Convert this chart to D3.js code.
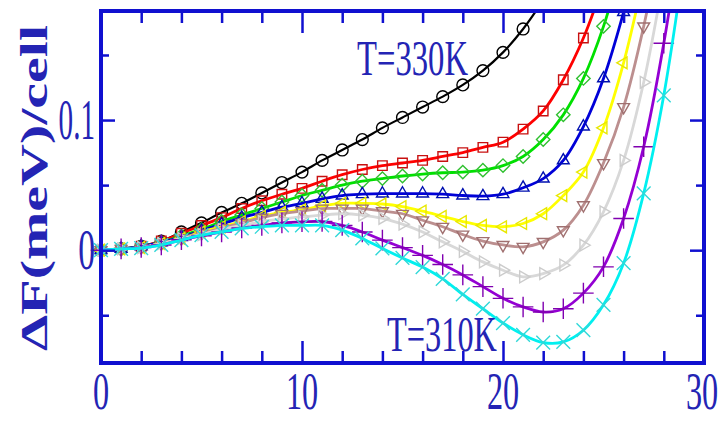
<!DOCTYPE html>
<html>
<head>
<meta charset="utf-8">
<script src="https://cdn.jsdelivr.net/npm/d3@7"></script>
<style>
  body { margin: 0; background: #fff; }
  svg { display: block; }
</style>
</head>
<body>
<div id="chart"></div>
<script>
// free energy vs order parameter, one curve per temperature (330K top .. 310K bottom)
const black  = [0, 0.001, 0.003, 0.007, 0.014, 0.021, 0.029, 0.036, 0.044, 0.052, 0.060, 0.069, 0.077, 0.085, 0.094, 0.102, 0.110, 0.118, 0.127, 0.138, 0.152, 0.170, 0.192];
const red    = [0, 0.001, 0.003, 0.007, 0.013, 0.019, 0.025, 0.032, 0.038, 0.043, 0.0475, 0.053, 0.058, 0.062, 0.065, 0.067, 0.069, 0.072, 0.075, 0.079, 0.083, 0.093, 0.107, 0.131, 0.163, 0.205];
const green  = [0, 0.001, 0.003, 0.006, 0.011, 0.016, 0.022, 0.027, 0.032, 0.037, 0.042, 0.046, 0.050, 0.053, 0.055, 0.057, 0.0585, 0.0595, 0.060, 0.0615, 0.065, 0.072, 0.085, 0.104, 0.132, 0.172, 0.225];
const blue   = [0, 0.001, 0.003, 0.006, 0.010, 0.015, 0.020, 0.025, 0.029, 0.033, 0.036, 0.0395, 0.042, 0.043, 0.0435, 0.0435, 0.0435, 0.043, 0.042, 0.0415, 0.043, 0.048, 0.055, 0.069, 0.095, 0.132, 0.183, 0.245];
const yellow = [0, 0.001, 0.002, 0.005, 0.009, 0.014, 0.018, 0.022, 0.026, 0.029, 0.031, 0.034, 0.036, 0.036, 0.0355, 0.0335, 0.030, 0.026, 0.022, 0.019, 0.018, 0.0205, 0.028, 0.042, 0.060, 0.094, 0.144, 0.210];
const brown  = [0, 0.001, 0.002, 0.005, 0.009, 0.013, 0.017, 0.021, 0.025, 0.028, 0.030, 0.032, 0.032, 0.032, 0.030, 0.028, 0.023, 0.018, 0.012, 0.007, 0.004, 0.0026, 0.0064, 0.0154, 0.0346, 0.067, 0.110, 0.172, 0.250];
const grey   = [0, 0.001, 0.002, 0.005, 0.009, 0.012, 0.016, 0.019, 0.022, 0.024, 0.0256, 0.027, 0.028, 0.027, 0.0245, 0.020, 0.014, 0.0064, -0.001, -0.009, -0.0154, -0.0205, -0.018, -0.0115, 0.0038, 0.0295, 0.069, 0.129, 0.210];
const violet = [0, 0.001, 0.002, 0.004, 0.008, 0.011, 0.014, 0.017, 0.019, 0.021, 0.0218, 0.022, 0.019, 0.014, 0.0077, 0.002, -0.004, -0.011, -0.019, -0.028, -0.037, -0.0436, -0.0475, -0.045, -0.033, -0.0128, 0.0244, 0.0795, 0.159, 0.260];
const cyan   = [0, 0.001, 0.0015, 0.004, 0.0077, 0.0115, 0.014, 0.0167, 0.018, 0.019, 0.019, 0.019, 0.0154, 0.009, 0.0013, -0.006, -0.013, -0.022, -0.034, -0.045, -0.056, -0.065, -0.071, -0.0705, -0.0615, -0.042, -0.010, 0.0436, 0.119, 0.220];

const seriesNames = ["black", "red", "green", "blue", "yellow", "brown", "grey", "violet", "cyan"];
const seriesValues = [black, red, green, blue, yellow, brown, grey, violet, cyan];
const colors = ["#000000", "#ff0000", "#00e000", "#0000d8", "#ffff00", "#bc8f8f", "#d8d8d8", "#9400d3", "#00f0f0"];
const markerColors = ["#000000", "#c81010", "#30c030", "#0010b0", "#e8e800", "#a07070", "#cccccc", "#8000b0", "#30d8d8"];

const xMajor = [0, 10, 20, 30];
const xMinor = [2, 4, 6, 8, 12, 14, 16, 18, 22, 24, 26, 28];
const yMajor = [0, 0.1];
const yMinor = [-0.05, 0.05, 0.15];
const xTickLabels = ["0", "10", "20", "30"];
const yTickLabels = ["0", "0.1"];

const width = 726, height = 421;
const mLeft = 101, mRight = 704, mTop = 11, mBottom = 363;
const axisColor = "#1010d0";
const textColor = "#2424b4";

const svg = d3.select("#chart").append("svg")
  .attr("width", width)
  .attr("height", height);

const x = d3.scaleLinear().domain([0, 30]).range([mLeft, mRight]);
const y = d3.scaleLinear().domain([-0.0867, 0.1838]).range([mBottom, mTop]);

svg.append("defs").append("clipPath").attr("id", "plot")
  .append("rect")
  .attr("x", mLeft - 12).attr("y", mTop)
  .attr("width", mRight - mLeft + 12).attr("height", mBottom - mTop);

// marker shapes, xmgrace order: circle, square, diamond, triangles up/left/down/right, plus, x
const shapes = [
  { type: d3.symbolCircle, size: 110, rot: 0 },
  { type: d3.symbolSquare2, size: 115, rot: 0 },
  { type: d3.symbolDiamond2, size: 115, rot: 0 },
  { type: d3.symbolTriangle2, size: 100, rot: 0 },
  { type: d3.symbolTriangle2, size: 100, rot: -90 },
  { type: d3.symbolTriangle2, size: 100, rot: 180 },
  { type: d3.symbolTriangle2, size: 100, rot: 90 },
  { type: d3.symbolPlus, size: 140, rot: 0 },
  { type: d3.symbolTimes, size: 125, rot: 0 }
];

const line = d3.line()
  .x((d, i) => x(i))
  .y(d => y(d))
  .curve(d3.curveCatmullRom);

const plot = svg.append("g").attr("clip-path", "url(#plot)");

seriesValues.forEach((vals, k) => {
  const g = plot.append("g").attr("class", "series " + seriesNames[k]);
  g.append("path")
    .datum(vals)
    .attr("d", line)
    .attr("fill", "none")
    .attr("stroke", colors[k])
    .attr("stroke-width", k === 0 ? 2.2 : 2.8);

  const sym = d3.symbol().type(shapes[k].type).size(shapes[k].size);
  g.selectAll("path.mark")
    .data(vals)
    .join("path")
    .attr("class", "mark")
    .attr("transform", (d, i) => `translate(${x(i)},${y(d)}) rotate(${shapes[k].rot})`)
    .attr("d", sym)
    .attr("fill", "none")
    .attr("stroke", markerColors[k])
    .attr("stroke-width", 1.4);
});

// frame with inward ticks on all four sides
function ticks(axis, values, size, tx, ty) {
  const g = svg.append("g")
    .attr("transform", `translate(${tx},${ty})`)
    .call(axis.tickValues(values).tickSize(size).tickFormat(""));
  g.select(".domain").remove();
  g.selectAll(".tick line").attr("stroke", axisColor).attr("stroke-width", 2.5);
  g.selectAll(".tick text").remove();
}
ticks(d3.axisBottom(x), xMajor, -22, 0, mBottom);
ticks(d3.axisBottom(x), xMinor, -12, 0, mBottom);
ticks(d3.axisTop(x), xMajor, -22, 0, mTop);
ticks(d3.axisTop(x), xMinor, -12, 0, mTop);
ticks(d3.axisLeft(y), yMajor, -14, mLeft, 0);
ticks(d3.axisLeft(y), yMinor, -8, mLeft, 0);
ticks(d3.axisRight(y), yMajor, -14, mRight, 0);
ticks(d3.axisRight(y), yMinor, -8, mRight, 0);

svg.append("rect")
  .attr("x", mLeft).attr("y", mTop)
  .attr("width", mRight - mLeft).attr("height", mBottom - mTop)
  .attr("fill", "none")
  .attr("stroke", axisColor)
  .attr("stroke-width", 4);

const font = "'Liberation Serif', 'Times New Roman', serif";

// tick labels: glyphs in the original are narrow, so squeeze horizontally
svg.selectAll("text.xl")
  .data(xMajor)
  .join("text")
  .attr("class", "xl")
  .attr("transform", d => `translate(${x(d) - (d === 30 ? 2 : 0)},409) scale(0.62,1)`)
  .attr("text-anchor", "middle")
  .attr("font-family", font)
  .attr("font-size", 52)
  .attr("fill", textColor)
  .text((d, i) => xTickLabels[i]);

svg.selectAll("text.yl")
  .data(yMajor)
  .join("text")
  .attr("class", "yl")
  .attr("transform", d => `translate(95,${y(d) + 19}) scale(${d === 0 ? 0.6 : 0.52},1)`)
  .attr("text-anchor", "end")
  .attr("font-family", font)
  .attr("font-size", 56)
  .attr("fill", textColor)
  .text((d, i) => yTickLabels[i]);

svg.append("text")
  .attr("transform", "translate(47,188) rotate(-90)")
  .attr("text-anchor", "middle")
  .attr("font-family", font)
  .attr("font-weight", "bold")
  .attr("font-size", 38)
  .attr("fill", textColor)
  .attr("textLength", 326)
  .attr("lengthAdjust", "spacingAndGlyphs")
  .text("ΔF(meV)/cell");

svg.append("text")
  .attr("x", 357).attr("y", 75)
  .attr("font-family", font)
  .attr("font-size", 50)
  .attr("fill", textColor)
  .attr("textLength", 111)
  .attr("lengthAdjust", "spacingAndGlyphs")
  .text("T=330K");

svg.append("text")
  .attr("x", 387).attr("y", 351)
  .attr("font-family", font)
  .attr("font-size", 50)
  .attr("fill", textColor)
  .attr("textLength", 110)
  .attr("lengthAdjust", "spacingAndGlyphs")
  .text("T=310K");
</script>
</body>
</html>
